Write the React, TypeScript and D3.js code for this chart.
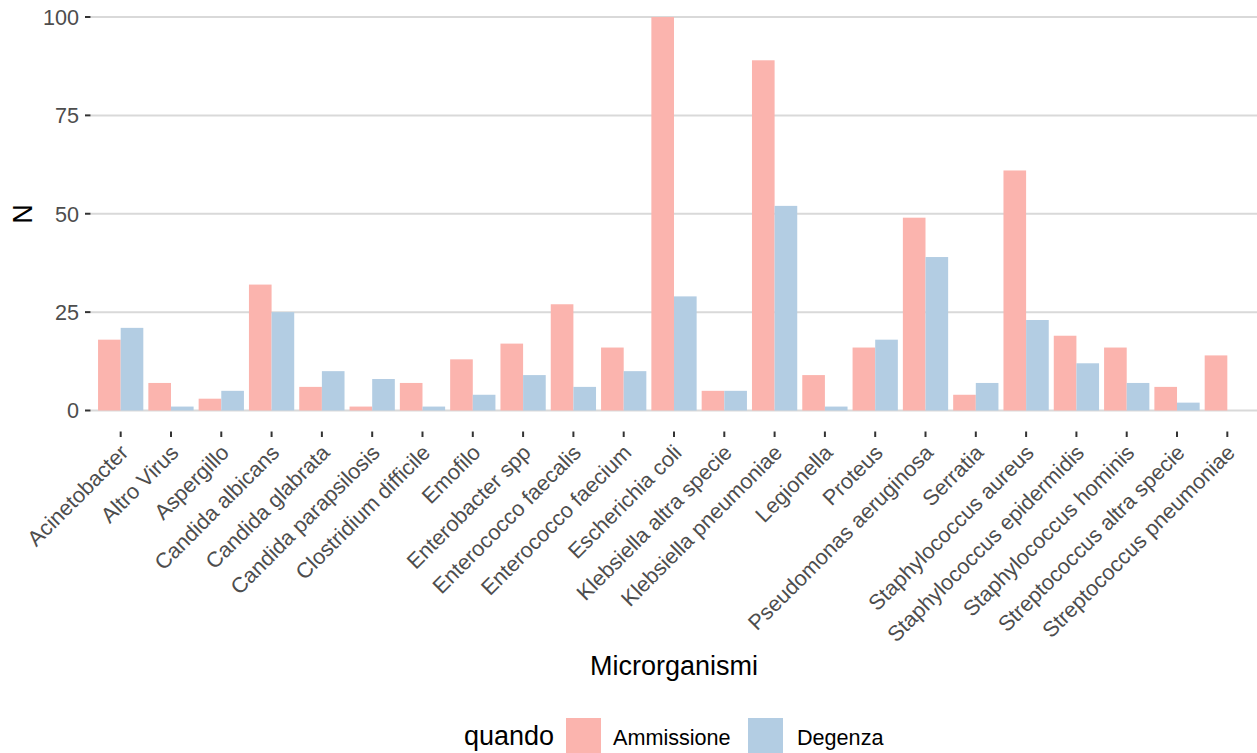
import React from "react";
import * as d3 from "d3";

const categories = [
  "Acinetobacter", "Altro Virus", "Aspergillo", "Candida albicans", "Candida glabrata",
  "Candida parapsilosis", "Clostridium difficile", "Emofilo", "Enterobacter spp",
  "Enterococco faecalis", "Enterococco faecium", "Escherichia coli", "Klebsiella altra specie",
  "Klebsiella pneumoniae", "Legionella", "Proteus", "Pseudomonas aeruginosa", "Serratia",
  "Staphylococcus aureus", "Staphylococcus epidermidis", "Staphylococcus hominis",
  "Streptococcus altra specie", "Streptococcus pneumoniae",
];
const ammissione = [18, 7, 3, 32, 6, 1, 7, 13, 17, 27, 16, 100, 5, 89, 9, 16, 49, 4, 61, 19, 16, 6, 14];
const degenza = [21, 1, 5, 25, 10, 8, 1, 4, 9, 6, 10, 29, 5, 52, 1, 18, 39, 7, 23, 12, 7, 2, 0];
const groups = ["Ammissione", "Degenza"];
const yTicks = [0, 25, 50, 75, 100];
const colors = ["#FBB4AE", "#B3CDE3"];

const W = 1257;
const H = 753;
const FONT = "'Liberation Sans', Arial, Helvetica, sans-serif";

export default function App() {
  const x = d3.scaleBand<string>().domain(categories).range([90.5, 1257.5]).paddingInner(0.1).paddingOuter(0.15);
  const xs = d3.scaleBand<string>().domain(groups).range([0, x.bandwidth()]).padding(0);
  const y = d3.scaleLinear().domain([0, 100]).range([410.5, 17]);
  const color = d3.scaleOrdinal<string, string>().domain(groups).range(colors);
  const series = [ammissione, degenza];

  return (
    <svg width={W} height={H} style={{ position: "absolute", left: 0, top: 0, background: "#fff" }} fontFamily={FONT}>
      {yTicks.map((t) => (
        <g key={t}>
          <line x1={90.5} x2={1257.5} y1={y(t)} y2={y(t)} stroke="#d9d9d9" strokeWidth={2} />
          <line x1={85} x2={90.5} y1={y(t)} y2={y(t)} stroke="#333333" strokeWidth={2} />
          <text x={79} y={y(t)} dy="0.36em" textAnchor="end" fontSize={21.6} fill="#4d4d4d">{t}</text>
        </g>
      ))}
      {categories.map((c, i) => (
        <g key={c}>
          {groups.map((g, j) => {
            const v = series[j][i];
            const top = y(v);
            return (
              <rect key={g} x={(x(c) as number) + (xs(g) as number)} y={top} width={xs.bandwidth()}
                height={Math.max(0, y(0) - top)} fill={color(g)} />
            );
          })}
        </g>
      ))}
      {categories.map((c) => {
        const cx = (x(c) as number) + x.bandwidth() / 2;
        return (
          <g key={c}>
            <line x1={cx} x2={cx} y1={431.5} y2={437} stroke="#333333" strokeWidth={2} />
            <text transform={`translate(${cx - 2},${443}) rotate(-45)`} textAnchor="end" dy="0.72em"
              fontSize={21.6} fill="#4d4d4d">{c}</text>
          </g>
        );
      })}
      <text x={674} y={675} textAnchor="middle" fontSize={27} fill="#000">Microrganismi</text>
      <text transform={`translate(32,214) rotate(-90)`} textAnchor="middle" fontSize={27} fill="#000">N</text>
      <text x={464} y={745} fontSize={27} fill="#000">quando</text>
      {groups.map((g, j) => {
        const kx = j === 0 ? 566 : 748;
        const tx = j === 0 ? 613 : 797;
        return (
          <g key={g}>
            <rect x={kx} y={718} width={35} height={35} fill={color(g)} />
            <text x={tx} y={745} fontSize={21.6} fill="#000">{g}</text>
          </g>
        );
      })}
    </svg>
  );
}
